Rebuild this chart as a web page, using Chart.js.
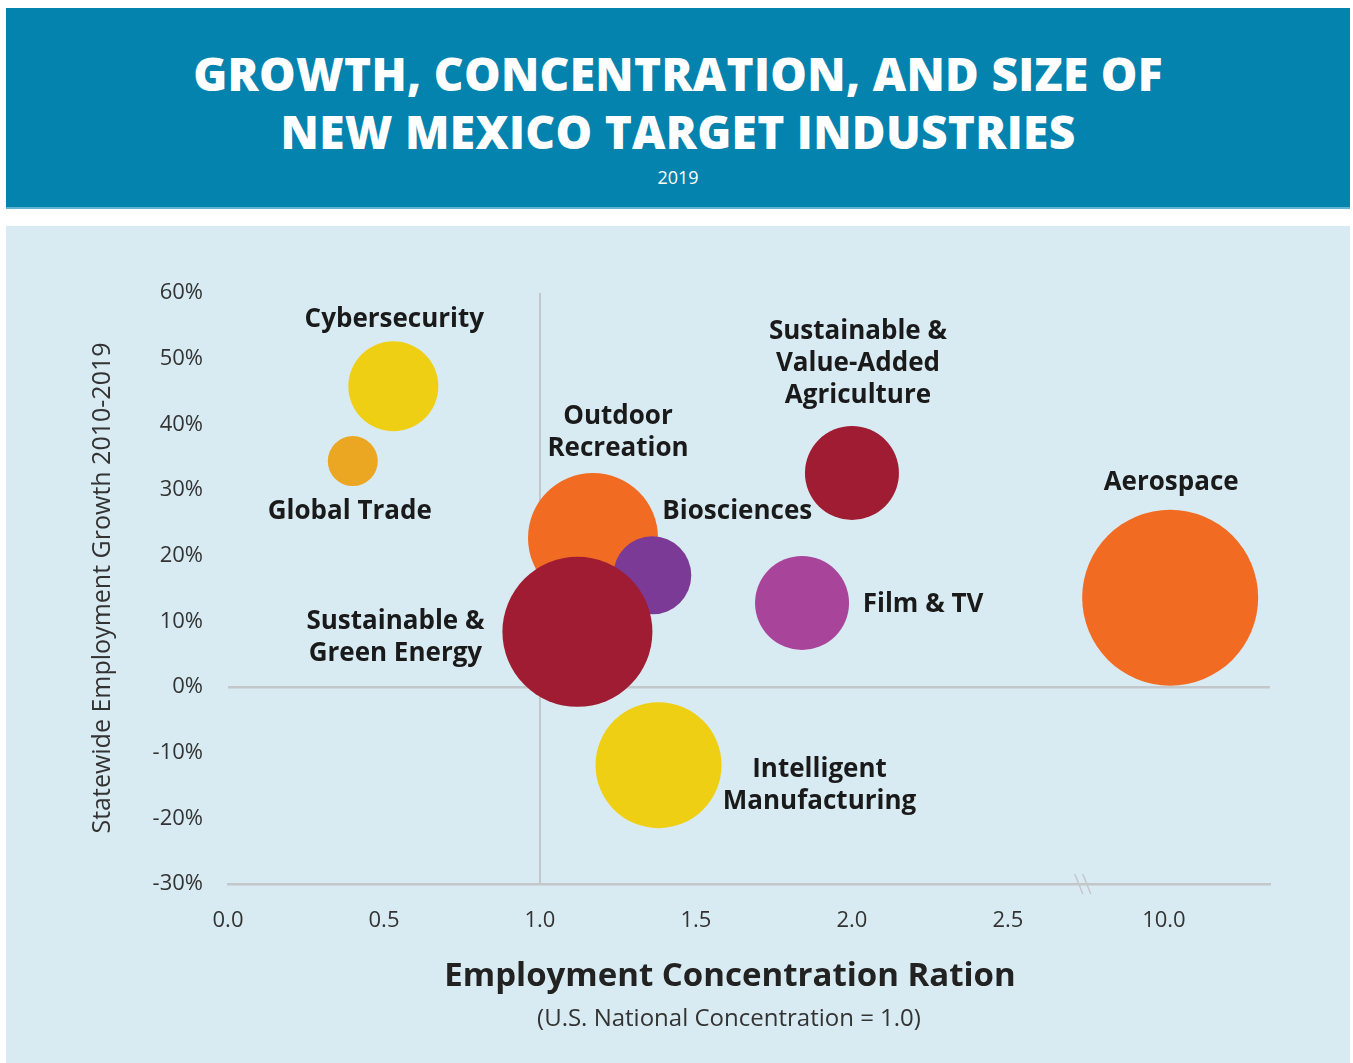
<!DOCTYPE html>
<html>
<head>
<meta charset="utf-8">
<script src="https://cdn.jsdelivr.net/npm/chart.js@4.4.1/dist/chart.umd.min.js"></script>
<style>
  html, body { margin: 0; padding: 0; background: #ffffff; }
  body { width: 1353px; height: 1063px; position: relative; overflow: hidden; font-family: "Open Sans", sans-serif; }
  #header { position: absolute; left: 6px; top: 8px; width: 1344px; height: 199px; background: #0383ae; border-bottom: 2px solid #5fb4d2; color: #fff; text-align: center; }
  #header h1 { margin: 0; padding-top: 36px; font-size: 46px; line-height: 58px; font-weight: 800; letter-spacing: 0.3px; }
  #header .year { font-size: 18px; margin-top: 5px; }
  #panel { position: absolute; left: 6px; top: 226px; width: 1344px; height: 837px; background: #d9ebf2; }
  #chart { position: absolute; left: 0; top: 0; }
</style>
</head>
<body>
<div id="header">
  <h1>GROWTH, CONCENTRATION, AND SIZE OF<br>NEW MEXICO TARGET INDUSTRIES</h1>
  <div class="year">2019</div>
</div>
<div id="panel"></div>
<canvas id="chart" width="1353" height="1063"></canvas>
<script>
// Target industries, bubble chart
const industries = ['Cybersecurity', 'Global Trade', 'Outdoor Recreation', 'Biosciences',
    'Sustainable & Green Energy', 'Intelligent Manufacturing',
    'Sustainable & Value-Added Agriculture', 'Film & TV', 'Aerospace'];
const concentration = [0.53, 0.40, 1.17, 1.36, 1.12, 1.38, 2.00, 1.84, 10.02];
const growth = [45.8, 34.4, 22.7, 17.0, 8.4, -11.9, 32.6, 12.8, 13.6];
const bubbleSize = [45, 25, 65, 39, 75, 63, 47, 47, 88];
const colors = ['#efcf14', '#eba622', '#f26b22', '#7b3a96', '#a01c33', '#efcf14', '#a01c33', '#a9449b', '#f26b22'];
const xTickLabels = ['0.0', '0.5', '1.0', '1.5', '2.0', '2.5', '10.0'];

// broken x axis: everything past the break sits at value - 7
function xPos(v) { return v >= 9 ? v - 7 : v; }

// label lines and offset from bubble centre
const labelLines = [
    ['Cybersecurity'], ['Global Trade'], ['Outdoor', 'Recreation'], ['Biosciences'],
    ['Sustainable &', 'Green Energy'], ['Intelligent', 'Manufacturing'],
    ['Sustainable &', 'Value-Added', 'Agriculture'], ['Film & TV'], ['Aerospace']
];
const labelOffset = [[1, -67], [-3, 50], [25, -121], [85, -64], [-182, -10], [161, 4], [6, -141], [121, 2], [1, -115]];

const points = industries.map((n, i) => ({ x: xPos(concentration[i]), y: growth[i], r: bubbleSize[i] }));

const gridGrey = '#c4c7ca';
const boldFont = 'bold 26px "Open Sans", sans-serif';

const labelPlugin = {
    id: 'labels',
    afterDatasetsDraw(chart) {
        const ctx = chart.ctx;
        const meta = chart.getDatasetMeta(0);
        const xs = chart.scales.x, ys = chart.scales.y;
        ctx.save();
        // axis break marks
        const bx = xs.getPixelForValue(2.74), by = ys.getPixelForValue(-30);
        ctx.strokeStyle = gridGrey;
        ctx.lineWidth = 1.5;
        [-4, 4].forEach(d => {
            ctx.beginPath();
            ctx.moveTo(bx + d - 4, by - 10);
            ctx.lineTo(bx + d + 4, by + 10);
            ctx.stroke();
        });
        // bubble labels
        ctx.fillStyle = '#1a1a1a';
        ctx.font = boldFont;
        ctx.textAlign = 'center';
        ctx.textBaseline = 'middle';
        meta.data.forEach((el, i) => {
            const lines = labelLines[i];
            lines.forEach((t, k) => {
                ctx.fillText(t, el.x + labelOffset[i][0], el.y + labelOffset[i][1] + k * 32);
            });
        });
        // axis titles
        ctx.fillStyle = '#222';
        ctx.font = 'bold 33px "Open Sans", sans-serif';
        ctx.fillText('Employment Concentration Ration', 730, 977);
        ctx.fillStyle = '#333';
        ctx.font = '24px "Open Sans", sans-serif';
        ctx.fillText('(U.S. National Concentration = 1.0)', 729, 1019);
        ctx.translate(103, 588);
        ctx.rotate(-Math.PI / 2);
        ctx.font = '25px "Open Sans", sans-serif';
        ctx.fillText('Statewide Employment Growth 2010-2019', 0, 0);
        ctx.restore();
    }
};

new Chart(document.getElementById('chart'), {
    type: 'bubble',
    data: {
        datasets: [{
            data: points,
            backgroundColor: colors,
            borderWidth: 0
        }]
    },
    options: {
        responsive: false,
        devicePixelRatio: 1,
        animation: false,
        events: [],
        layout: { autoPadding: false, padding: { top: 293, right: 83, bottom: 0, left: 0 } },
        plugins: { legend: { display: false }, tooltip: { enabled: false } },
        scales: {
            x: {
                type: 'linear',
                min: 0,
                max: 3.34,
                afterFit(scale) { scale.height = 179; scale.paddingLeft = 0; scale.paddingRight = 0; },
                border: { display: true, color: gridGrey, width: 2.5 },
                grid: {
                    drawTicks: false,
                    lineWidth: 2,
                    color: c => (c.tick && Math.abs(c.tick.value - 1) < 1e-6) ? gridGrey : 'rgba(0,0,0,0)'
                },
                ticks: {
                    stepSize: 0.5,
                    includeBounds: false,
                    padding: 24,
                    color: '#333',
                    font: { family: '"Open Sans", sans-serif', size: 22 },
                    maxRotation: 0,
                    callback: v => {
                        const i = Math.round(v / 0.5);
                        return Math.abs(v - i * 0.5) < 1e-6 ? (xTickLabels[i] || '') : '';
                    }
                }
            },
            y: {
                type: 'linear',
                min: -30,
                max: 60,
                afterFit(scale) { scale.width = 228; scale.paddingTop = 0; scale.paddingBottom = 0; },
                border: { display: false },
                grid: {
                    drawTicks: false,
                    lineWidth: 2.5,
                    color: c => (c.tick && c.tick.value === 0) ? gridGrey : 'rgba(0,0,0,0)'
                },
                ticks: {
                    stepSize: 10,
                    padding: 25,
                    color: '#333',
                    font: { family: '"Open Sans", sans-serif', size: 22 },
                    callback: v => v + '%'
                }
            }
        }
    },
    plugins: [labelPlugin]
});
</script>
</body>
</html>
